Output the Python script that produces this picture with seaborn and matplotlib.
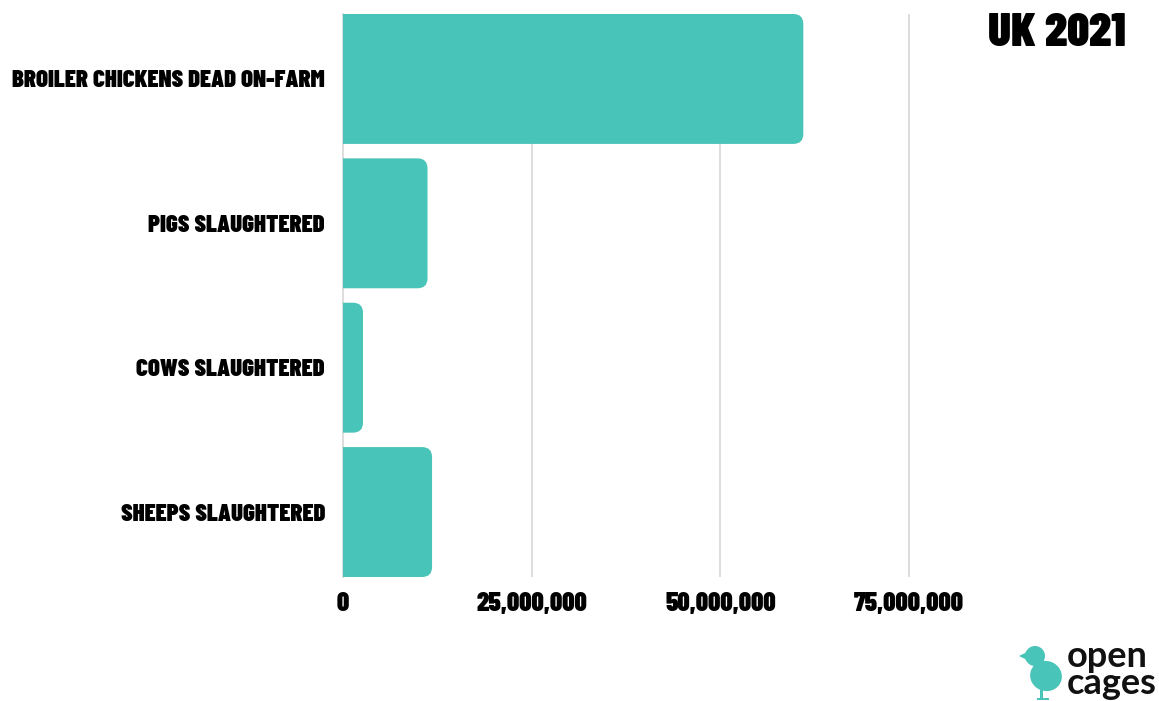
import numpy as np
import pandas as pd
import seaborn as sns
import matplotlib
matplotlib.use("Agg")
import matplotlib.pyplot as plt
from matplotlib.patches import FancyBboxPatch, Ellipse, Circle, Polygon

# ---- data ----
categories = ["BROILER CHICKENS DEAD ON-FARM", "PIGS SLAUGHTERED",
              "COWS SLAUGHTERED", "SHEEPS SLAUGHTERED"]
values = [61_000_000, 11_200_000, 2_650_000, 11_800_000]
tick_values = [0, 25_000_000, 50_000_000, 75_000_000]
tick_labels = ["0", "25,000,000", "50,000,000", "75,000,000"]
title = "UK 2021"
logo_lines = ["open", "cages"]

TEAL = "#49C4B8"
W, H = 1159, 701
COND = ["Barlow Condensed", "DejaVu Sans"]

sns.set_theme(style="white")
plt.rcParams["font.family"] = COND

fig = plt.figure(figsize=(W / 100, H / 100), dpi=100)
fig.patch.set_facecolor("white")

xmax = 80_000_000
x0_px, x75_px = 343, 909
ax_w_px = (x75_px - x0_px) * xmax / 75_000_000
top_px, bot_px = 14, 577
ax = fig.add_axes([x0_px / W, 1 - bot_px / H, ax_w_px / W, (bot_px - top_px) / H])

df = pd.DataFrame({"category": categories, "value": values})
sns.barplot(data=df, x="value", y="category", orient="h", color=TEAL,
            saturation=1, width=0.9, ax=ax)
ax.set_xlim(0, xmax)
ax.set_ylim(3.45, -0.45)

# rounded bar ends
xupp = xmax / ax_w_px
yupp = 3.9 / (bot_px - top_px)
r = 10 * xupp
aspect = yupp / xupp
for p in list(ax.patches):
    x, y, w, h = p.get_x(), p.get_y(), p.get_width(), p.get_height()
    p.remove()
    fb = FancyBboxPatch((x - 2 * r, y), w + 2 * r, h,
                        boxstyle=f"round,pad=0,rounding_size={r}",
                        mutation_aspect=aspect, fc=TEAL, ec="none",
                        clip_on=True, zorder=3)
    ax.add_patch(fb)

ax.set_xticks(tick_values)
ax.set_xticklabels(tick_labels)
ax.tick_params(axis="x", length=0, pad=11, colors="black")
ax.tick_params(axis="y", length=0, pad=13, colors="black")
ax.xaxis.grid(True, color="#DDDDDD", lw=1.4)
ax.yaxis.grid(False)
ax.set_axisbelow(True)
for s in ["top", "right", "bottom"]:
    ax.spines[s].set_visible(False)
ax.spines["left"].set_color("#DDDDDD")
ax.spines["left"].set_linewidth(1.4)
ax.set_xlabel("")
ax.set_ylabel("")

ttl = fig.text(1126 / W, 1 - 34 / H, title, ha="right", va="center",
               fontsize=34, fontweight=900, color="black")

# fit condensed text widths to the reference
renderer = fig.canvas.get_renderer()

def fit(texts, target_px, start):
    for t in texts:
        t.set_fontsize(start)
        t.set_fontweight(900)
    wmax = max(t.get_window_extent(renderer).width for t in texts)
    size = start * target_px / wmax
    for t in texts:
        t.set_fontsize(size)

fit(ax.get_yticklabels(), 313, 18)
fit([ax.get_xticklabels()[1]], 111, 20)
sz = ax.get_xticklabels()[1].get_fontsize()
for t in ax.get_xticklabels():
    t.set_fontsize(sz)
    t.set_fontweight(900)
fit([ttl], 138, 34)

# logo text (one two-line text block)
fig.text(1067 / W, 1 - 640 / H, "\n".join(logo_lines), ha="left", va="top",
         family=["Lato", "DejaVu Sans"], fontweight="bold", fontsize=26,
         color="#111111", linespacing=0.78)

# logo chick
lax = fig.add_axes([1015 / W, 0, 55 / W, 62 / H])
lax.set_xlim(0, 55)
lax.set_ylim(0, 62)
lax.axis("off")
lax.add_patch(Ellipse((31, 25), 32, 30, angle=-20, fc=TEAL, ec="none"))
lax.add_patch(Circle((20, 45), 10, fc=TEAL, ec="none"))
lax.add_patch(Polygon([[12, 49], [4, 45], [12, 41]], closed=True, fc=TEAL, ec="none"))
lax.add_patch(Polygon([[22, 40], [40, 30], [30, 20], [18, 35]], closed=True, fc=TEAL, ec="none"))
lax.add_patch(Polygon([[25, 11], [28, 11], [28, 3], [34, 3], [34, 1], [22, 1], [22, 3], [25, 3]],
                      closed=True, fc=TEAL, ec="none"))

fig.savefig("out.png", dpi=100, facecolor="white")
